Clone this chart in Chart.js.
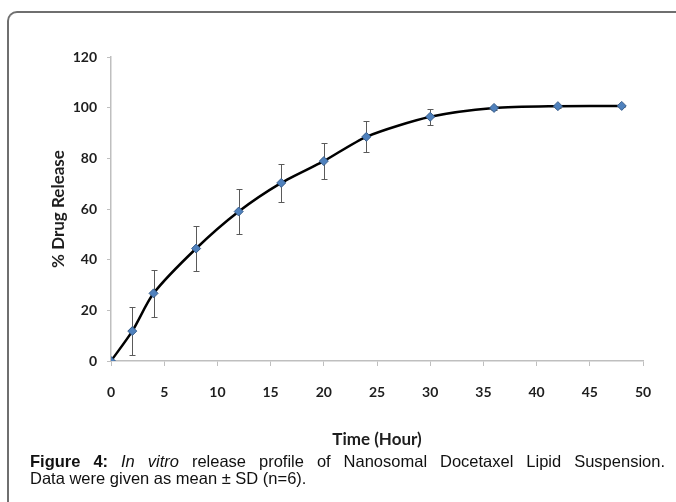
<!DOCTYPE html>
<html lang="en">
<head>
    <meta charset="UTF-8">
    <title>In vitro release profile</title>
    <script src="https://cdn.jsdelivr.net/npm/chart.js"></script>
    <style>
        body {
            margin: 0;
            background-color: #fff;
            width: 676px;
            height: 502px;
            overflow: hidden;
            position: relative;
        }
        #frame {
            position: absolute;
            left: 7px;
            top: 11px;
            width: 700px;
            height: 520px;
            border-left: 2px solid #6f6f6f;
            border-top: 2px solid #6f6f6f;
            border-top-left-radius: 10px;
        }
        #chart {
            position: absolute;
            left: 0;
            top: 0;
        }
        #caption {
            position: absolute;
            left: 30px;
            top: 453px;
            width: 635px;
            font-family: "Liberation Sans", Arial, sans-serif;
            font-size: 16.5px;
            line-height: 17px;
            color: #111;
        }
        #caption .first {
            text-align: justify;
            text-align-last: justify;
        }
    </style>
</head>
<body>
    <div id="frame"></div>
    <canvas id="chart" width="676" height="460"></canvas>
    <div id="caption">
        <div class="first"><b>Figure 4:</b> <i>In vitro</i> release profile of Nanosomal Docetaxel Lipid Suspension.</div>
        <div>Data were given as mean ± SD (n=6).</div>
    </div>

    <script>
        // time points (hours)
        const hours = [0, 2, 4, 8, 12, 16, 20, 24, 30, 36, 42, 48];
        // mean % drug release
        const release = [0, 11.8, 26.7, 44.4, 59.0, 70.3, 78.9, 88.5, 96.4, 99.9, 100.6, 100.7];
        // standard deviation
        const sd = [0, 9.5, 9.4, 8.9, 8.8, 7.6, 7.2, 6.1, 3.2, 0.8, 0.6, 0.5];

        const xTitle = 'Time (Hour)';
        const yTitle = '% Drug Release';

        // error bars drawn with the chart scales
        const errorBars = {
            id: 'errorBars',
            beforeDatasetsDraw(chart) {
                const ctx = chart.ctx;
                const x = chart.scales.x;
                const y = chart.scales.y;
                ctx.save();
                ctx.strokeStyle = '#5a5a5a';
                ctx.lineWidth = 1;
                hours.forEach((h, i) => {
                    if (!sd[i]) return;
                    const px = Math.round(x.getPixelForValue(h)) + 0.5;
                    const top = Math.round(y.getPixelForValue(release[i] + sd[i])) + 0.5;
                    const bot = Math.round(y.getPixelForValue(release[i] - sd[i])) + 0.5;
                    ctx.beginPath();
                    ctx.moveTo(px, top);
                    ctx.lineTo(px, bot);
                    ctx.moveTo(px - 3, top);
                    ctx.lineTo(px + 3, top);
                    ctx.moveTo(px - 3, bot);
                    ctx.lineTo(px + 3, bot);
                    ctx.stroke();
                });
                ctx.restore();
            }
        };

        const tickFont = { family: 'Lato, "Open Sans", sans-serif', size: 14, weight: 'bold' };
        const titleFont = { family: 'Lato, "Open Sans", sans-serif', size: 17, weight: 'bold' };

        const ctx = document.getElementById('chart').getContext('2d');
        new Chart(ctx, {
            type: 'line',
            data: {
                datasets: [{
                    data: hours.map((h, i) => ({ x: h, y: release[i] })),
                    borderColor: '#000',
                    borderWidth: 2.5,
                    tension: 0.25,
                    pointStyle: 'rectRot',
                    pointRadius: 4.5,
                    pointBackgroundColor: '#4f81bd',
                    pointBorderColor: '#385d8a',
                    pointBorderWidth: 1,
                    fill: false
                }]
            },
            options: {
                responsive: false,
                animation: false,
                layout: {
                    padding: { left: 0, right: 33, top: 57, bottom: 0 }
                },
                plugins: {
                    legend: { display: false },
                    tooltip: { enabled: false }
                },
                scales: {
                    x: {
                        type: 'linear',
                        min: 0,
                        max: 50,
                        ticks: { stepSize: 5, font: tickFont, color: '#1e1e1e', padding: 18, maxRotation: 0 },
                        grid: { drawOnChartArea: false, drawTicks: true, tickLength: 5, color: '#bfbfbf' },
                        border: { color: '#bfbfbf', width: 1.5 },
                        title: { display: true, text: xTitle, font: titleFont, color: '#1e1e1e', padding: { top: 0, bottom: 10 } },
                        afterFit(scale) { scale.height = 99; }
                    },
                    y: {
                        min: 0,
                        max: 120,
                        ticks: { stepSize: 20, font: tickFont, color: '#1e1e1e', padding: 10 },
                        grid: { drawOnChartArea: false, drawTicks: true, tickLength: 4, color: '#bfbfbf' },
                        border: { color: '#bfbfbf', width: 1.5 },
                        title: { display: true, text: yTitle, font: titleFont, color: '#1e1e1e', padding: { top: 48, bottom: 0 } },
                        afterFit(scale) { scale.width = 111; }
                    }
                }
            },
            plugins: [errorBars]
        });
    </script>
</body>
</html>
